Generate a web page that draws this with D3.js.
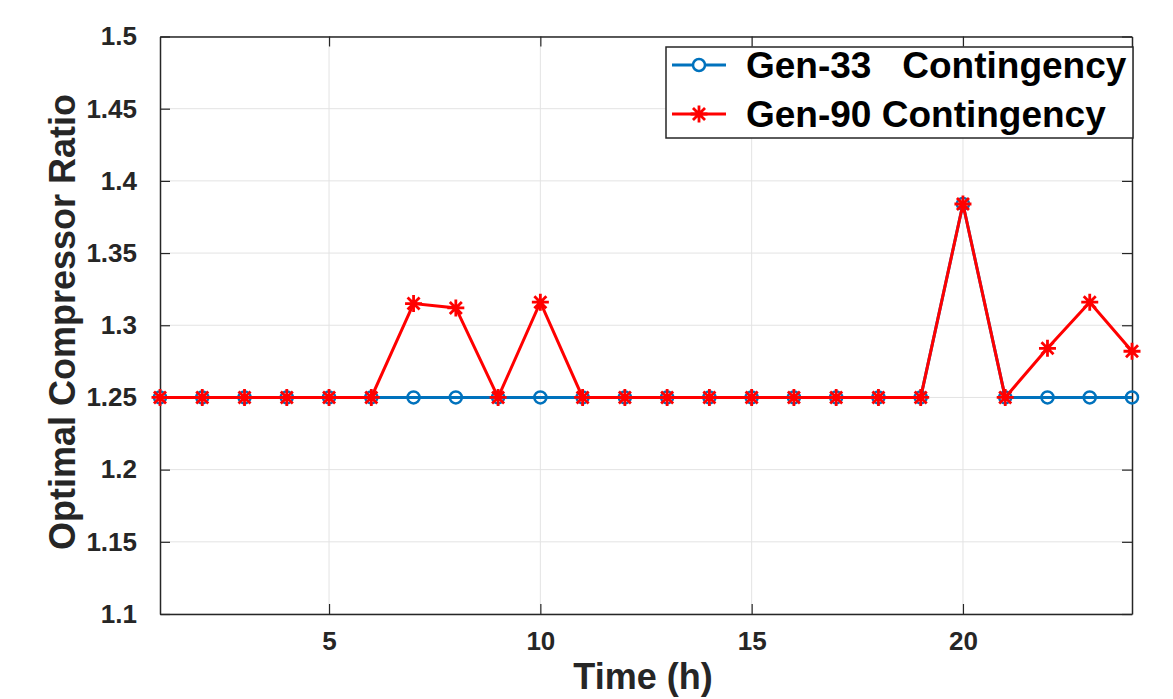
<!DOCTYPE html>
<html>
<head>
<meta charset="utf-8">
<script src="https://cdn.jsdelivr.net/npm/d3@7"></script>
<style>
  body { margin: 0; background: #fff; }
  svg { display: block; font-family: "Liberation Sans", Arial, sans-serif; }
</style>
</head>
<body>
<script>
// Chart values
var hours = [1, 2, 3, 4, 5, 6, 7, 8, 9, 10, 11, 12, 13, 14, 15, 16, 17, 18, 19, 20, 21, 22, 23, 24]
var gen33 = [1.25, 1.25, 1.25, 1.25, 1.25, 1.25, 1.25, 1.25, 1.25, 1.25, 1.25, 1.25,
             1.25, 1.25, 1.25, 1.25, 1.25, 1.25, 1.25, 1.384, 1.25, 1.25, 1.25, 1.25]
var gen90 = [1.25, 1.25, 1.25, 1.25, 1.25, 1.25, 1.315, 1.312, 1.25, 1.316, 1.25, 1.25,
             1.25, 1.25, 1.25, 1.25, 1.25, 1.25, 1.25, 1.384, 1.25, 1.284, 1.316, 1.282]
var xTicks = [5, 10, 15, 20]
var yTicks = [1.1, 1.15, 1.2, 1.25, 1.3, 1.35, 1.4, 1.45, 1.5]
var seriesNames = ["Gen-33\u00a0\u00a0\u00a0Contingency", "Gen-90 Contingency"]

var W = 1173, H = 699
var margin = {top: 36.5, right: 41, bottom: 85, left: 160}
var width = W - margin.left - margin.right,
    height = H - margin.top - margin.bottom

var axisColor = "#262626", gridColor = "#e3e3e3"
var blue = "#0072BD", red = "#FF0000"

var svg = d3.select("body").append("svg")
    .attr("width", W).attr("height", H)

var g = svg.append("g")
    .attr("transform", "translate(" + margin.left + "," + margin.top + ")")

var x = d3.scaleLinear().domain([1, 24]).range([0, width])
var y = d3.scaleLinear().domain([1.1, 1.5]).range([height, 0])

// grid
g.append("g").selectAll("line").data(xTicks).join("line")
    .attr("x1", d => x(d)).attr("x2", d => x(d))
    .attr("y1", 0).attr("y2", height)
    .attr("stroke", gridColor).attr("stroke-width", 1)
g.append("g").selectAll("line").data(yTicks).join("line")
    .attr("x1", 0).attr("x2", width)
    .attr("y1", d => y(d)).attr("y2", d => y(d))
    .attr("stroke", gridColor).attr("stroke-width", 1)

// axes (ticks inward, box on)
var fmtY = d => d3.format(".2~f")(d)
var xAxis = d3.axisBottom(x).tickValues(xTicks).tickSizeInner(-10).tickSizeOuter(0).tickPadding(18)
var yAxis = d3.axisLeft(y).tickValues(yTicks).tickFormat(fmtY).tickSizeInner(-10).tickSizeOuter(0).tickPadding(23)
var xTop = d3.axisTop(x).tickValues(xTicks).tickSizeInner(-10).tickSizeOuter(0).tickFormat("")
var yRight = d3.axisRight(y).tickValues(yTicks).tickSizeInner(-10).tickSizeOuter(0).tickFormat("")

function styleAxis(sel) {
  sel.select(".domain").attr("stroke", axisColor).attr("stroke-width", 1.5)
  sel.selectAll(".tick line").attr("stroke", axisColor).attr("stroke-width", 1.2)
  sel.selectAll(".tick text")
      .attr("fill", axisColor)
      .style("font-size", "26px")
      .style("font-weight", "bold")
      .style("font-family", "'Liberation Sans', Arial, sans-serif")
}

g.append("g").attr("transform", "translate(0," + height + ")").call(xAxis).call(styleAxis)
g.append("g").call(yAxis).call(styleAxis)
g.append("g").call(xTop).call(styleAxis)
g.append("g").attr("transform", "translate(" + width + ",0)").call(yRight).call(styleAxis)

// lines
var line = d3.line().x((d, i) => x(hours[i])).y(d => y(d))

g.append("path").datum(gen33)
    .attr("d", line).attr("fill", "none")
    .attr("stroke", blue).attr("stroke-width", 3)
g.selectAll(".c33").data(gen33).join("circle")
    .attr("class", "c33")
    .attr("cx", (d, i) => x(hours[i])).attr("cy", d => y(d))
    .attr("r", 6).attr("fill", "none")
    .attr("stroke", blue).attr("stroke-width", 2.5)

g.append("path").datum(gen90)
    .attr("d", line).attr("fill", "none")
    .attr("stroke", red).attr("stroke-width", 3)

function starPath(r) {
  var d = r * Math.SQRT1_2
  return "M" + (-r) + ",0L" + r + ",0M0," + (-r) + "L0," + r +
         "M" + (-d) + "," + (-d) + "L" + d + "," + d +
         "M" + (-d) + "," + d + "L" + d + "," + (-d)
}
g.selectAll(".s90").data(gen90).join("path")
    .attr("class", "s90")
    .attr("transform", (d, i) => "translate(" + x(hours[i]) + "," + y(d) + ")")
    .attr("d", starPath(8.5))
    .attr("fill", "none").attr("stroke", red).attr("stroke-width", 2.8)

// axis titles
svg.append("text")
    .attr("x", 643).attr("y", 689)
    .attr("text-anchor", "middle")
    .attr("fill", axisColor)
    .style("font-size", "36px").style("font-weight", "bold")
    .text("Time (h)")
svg.append("text")
    .attr("transform", "translate(75,322) rotate(-90)")
    .attr("text-anchor", "middle")
    .attr("fill", axisColor)
    .style("font-size", "36px").style("font-weight", "bold")
    .text("Optimal Compressor Ratio")

// legend
var leg = svg.append("g").attr("transform", "translate(666,47)")
leg.append("rect")
    .attr("width", 467).attr("height", 91)
    .attr("fill", "#fff").attr("stroke", axisColor).attr("stroke-width", 1.5)

var rows = [
  {name: seriesNames[0], color: blue, mk: "circle"},
  {name: seriesNames[1], color: red, mk: "star"}
]
rows.forEach(function(r, i) {
  var yy = 18 + i * 49
  leg.append("line").attr("x1", 6).attr("x2", 60).attr("y1", yy).attr("y2", yy)
      .attr("stroke", r.color).attr("stroke-width", 3)
  if (r.mk == "circle") {
    leg.append("circle").attr("cx", 33).attr("cy", yy).attr("r", 6)
        .attr("fill", "#fff").attr("stroke", r.color).attr("stroke-width", 2.5)
  } else {
    leg.append("path").attr("transform", "translate(33," + yy + ")")
        .attr("d", starPath(8.5)).attr("fill", "none")
        .attr("stroke", r.color).attr("stroke-width", 2.8)
  }
  leg.append("text").attr("x", 80).attr("y", yy + 13)
      .attr("fill", "#000")
      .style("font-size", "37px").style("font-weight", "bold")
      .text(r.name)
})
</script>
</body>
</html>
